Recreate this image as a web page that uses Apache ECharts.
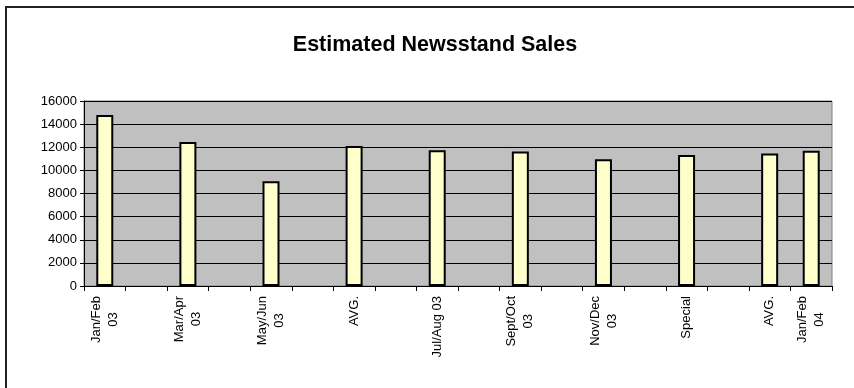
<!DOCTYPE html>
<html>
<head>
<meta charset="utf-8">
<script src="https://cdn.jsdelivr.net/npm/echarts@6/dist/echarts.min.js"></script>
<style>
  html, body { margin: 0; padding: 0; background: #fff; }
  #chart { width: 854px; height: 388px; }
</style>
</head>
<body>
<div id="chart"></div>
<script>
// category slots (Excel category axis, every other slot empty)
var categoryLabels = [
  'Jan/Feb\n03', '', 'Mar/Apr\n03', '', 'May/Jun\n03', '', 'AVG.', '',
  'Jul/Aug 03', '', 'Sept/Oct\n03', '', 'Nov/Dec\n03', '', 'Special', '',
  'AVG.', 'Jan/Feb\n04'
];
var salesValues = [
  14800, null, 12450, null, 9050, null, 12100, null,
  11750, null, 11630, null, 10970, null, 11340, null,
  11450, 11700
];
var yTicks = [0, 2000, 4000, 6000, 8000, 10000, 12000, 14000, 16000];

var chart = echarts.init(document.getElementById('chart'));
var FONT = 'Liberation Sans, Arial, sans-serif';

var option = {
  backgroundColor: '#ffffff',
  animation: false,
  textStyle: { fontFamily: FONT },
  title: {
    text: 'Estimated Newsstand Sales',
    left: 430,
    top: 29,
    textAlign: 'center',
    textStyle: { fontSize: 21.5, fontWeight: 'bold', color: '#000', fontFamily: FONT }
  },
  graphic: [{
    type: 'rect',
    shape: { x: 6, y: 7, width: 900, height: 500 },
    style: { fill: null, stroke: '#222', lineWidth: 2 },
    silent: true
  }],
  grid: {
    show: true,
    left: 84,
    right: 22,
    top: 101,
    bottom: 102,
    backgroundColor: '#C0C0C0',
    borderColor: '#808080',
    borderWidth: 1
  },
  xAxis: {
    type: 'category',
    data: categoryLabels.map(function (l, i) { return 'slot' + i; }),
    boundaryGap: true,
    axisLine: { lineStyle: { color: '#000', width: 1 } },
    axisTick: { show: true, interval: 0, length: 5, lineStyle: { color: '#000' } },
    axisLabel: {
      interval: 0,
      rotate: 90,
      margin: 10,
      color: '#000',
      fontSize: 13,
      formatter: function (v, i) {
        var l = categoryLabels[i];
        if (!l) return '';
        return l.split('\n').map(function (s) { return '{c|' + s + '}'; }).join('\n');
      },
      rich: {
        c: { align: 'center', fontSize: 13, lineHeight: 17, color: '#000', fontFamily: FONT }
      }
    },
    splitLine: { show: false }
  },
  yAxis: {
    type: 'value',
    min: yTicks[0],
    max: yTicks[yTicks.length - 1],
    interval: 2000,
    axisLine: { show: true, lineStyle: { color: '#000', width: 1 } },
    axisTick: { show: true, length: 4, lineStyle: { color: '#000' } },
    axisLabel: {
      color: '#000', fontSize: 13, margin: 7,
      formatter: function (v) { return String(v); }
    },
    splitLine: { show: true, lineStyle: { color: '#000', width: 1 } }
  },
  series: [{
    type: 'bar',
    data: salesValues,
    barWidth: 17,
    itemStyle: { color: '#FFFFCC', borderColor: '#000', borderWidth: 2 }
  }]
};

chart.setOption(option);
</script>
</body>
</html>
